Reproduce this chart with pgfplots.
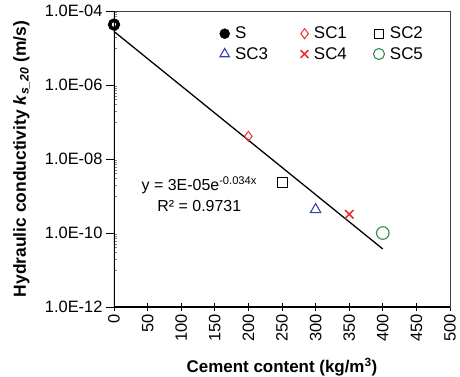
\documentclass[border=0pt]{standalone}
\usepackage{pgfplots}
\pgfplotsset{compat=1.18}
\usepackage{fontspec}
\setmainfont{Liberation Sans}
\definecolor{scred}{HTML}{E8312F}
\definecolor{scblue}{HTML}{3A3FB0}
\definecolor{scgreen}{HTML}{2E8B4E}
\begin{document}
\begin{tikzpicture}
\begin{axis}[
  scale only axis, width=336bp, height=296bp,
  xmin=0, xmax=500, ymode=log, ymin=1e-12, ymax=1e-4,
  xtick={0,50,...,500},
  ytick={1e-12,1e-10,1e-8,1e-6,1e-4},
  yticklabels={1.0E-12,1.0E-10,1.0E-08,1.0E-06,1.0E-04},
  minor ytick={1e-11,2e-11,3e-11,4e-11,5e-11,6e-11,7e-11,8e-11,9e-11,
               1e-9,2e-9,3e-9,4e-9,5e-9,6e-9,7e-9,8e-9,9e-9,
               1e-7,2e-7,3e-7,4e-7,5e-7,6e-7,7e-7,8e-7,9e-7,
               1e-5,2e-5,3e-5,4e-5,5e-5,6e-5,7e-5,8e-5,9e-5},
  xtick pos=bottom, ytick pos=left,
  xtick align=center, ytick align=outside,
  major tick length=8bp, minor tick length=3bp,
  minor y tick style={xshift=3bp, line width=0.6pt},
  major tick style={line width=0.9pt, black},
  axis line style={line width=0.6pt, black!75},
  /pgf/number format/assume math mode=true,
  x tick label style={rotate=90, anchor=east, font=\fontsize{16.5}{19}\selectfont},
  y tick label style={font=\fontsize{16.5}{19}\selectfont},
  xlabel={\textbf{Cement content (kg/m\textsuperscript{3})}},
  ylabel={\textbf{Hydraulic conductivity \textit{k}\textsubscript{\textit{s\_20}} (m/s)}},
  xlabel style={font=\fontsize{17}{20}\selectfont, yshift=-9bp},
  ylabel style={font=\fontsize{17.5}{21}\selectfont, yshift=8bp},
  legend columns=3,
  legend cell align=left,
  legend image code/.code={\draw[#1] plot coordinates {(0bp,0bp)};},
  legend style={draw=none, fill=none, at={(0.311,0.955)}, anchor=north west,
    font=\fontsize{17}{20}\selectfont, inner sep=1bp,
    nodes={inner sep=1.5bp},
    /tikz/every odd column/.append style={column sep=4bp},
    row sep=4bp},
]
\addlegendimage{mark=*, mark size=5bp, black}
\addlegendentry{\makebox[64bp][l]{S}}
\addlegendimage{mark=diamond, mark size=5bp, scred, line width=1pt}
\addlegendentry{\makebox[58bp][l]{SC1}}
\addlegendimage{mark=square, mark size=4.5bp, black, line width=1pt}
\addlegendentry{SC2}
\addlegendimage{mark=triangle, mark size=5.5bp, scblue, line width=1.1pt}
\addlegendentry{\makebox[64bp][l]{SC3}}
\addlegendimage{mark=x, mark size=5.5bp, scred, line width=1.6pt}
\addlegendentry{\makebox[58bp][l]{SC4}}
\addlegendimage{mark=o, mark size=5.5bp, scgreen, line width=1.1pt}
\addlegendentry{SC5}

\addplot[black, line width=1.3pt, forget plot] coordinates {(0,2.8e-5) (400,3.7e-11)};

\addplot[only marks, mark=o, mark size=4.3bp, line width=3.6bp, black, forget plot] coordinates {(0,4.3e-5)};
\addplot[only marks, mark=diamond, mark size=5bp, scred, line width=1pt, mark options={fill=white}, forget plot] coordinates {(200,4.1e-8)};
\addplot[only marks, mark=square, mark size=5bp, black, line width=1pt, forget plot] coordinates {(250,2.3e-9)};
\addplot[only marks, mark=triangle, mark size=6bp, scblue, line width=1.1pt, forget plot] coordinates {(300,4.3e-10)};
\addplot[only marks, mark=x, mark size=6bp, scred, line width=1.6pt, forget plot] coordinates {(350,3.2e-10)};
\addplot[only marks, mark=o, mark size=6.3bp, scgreen, line width=1.1pt, forget plot] coordinates {(400,1.0e-10)};

\node[align=center, font=\fontsize{16}{21}\selectfont] at (axis cs:127,1.1e-9)
  {y = 3E-05e\textsuperscript{-0.034x}\\R² = 0.9731};

\draw[line width=1.3pt, black] (rel axis cs:0,1) -- (rel axis cs:0,0) -- (rel axis cs:1,0);
\end{axis}
\pgfresetboundingbox
\path ([shift={(-114bp,-70bp)}]current axis.south west) rectangle ([shift={(10bp,11bp)}]current axis.north east);
\end{tikzpicture}
\end{document}
